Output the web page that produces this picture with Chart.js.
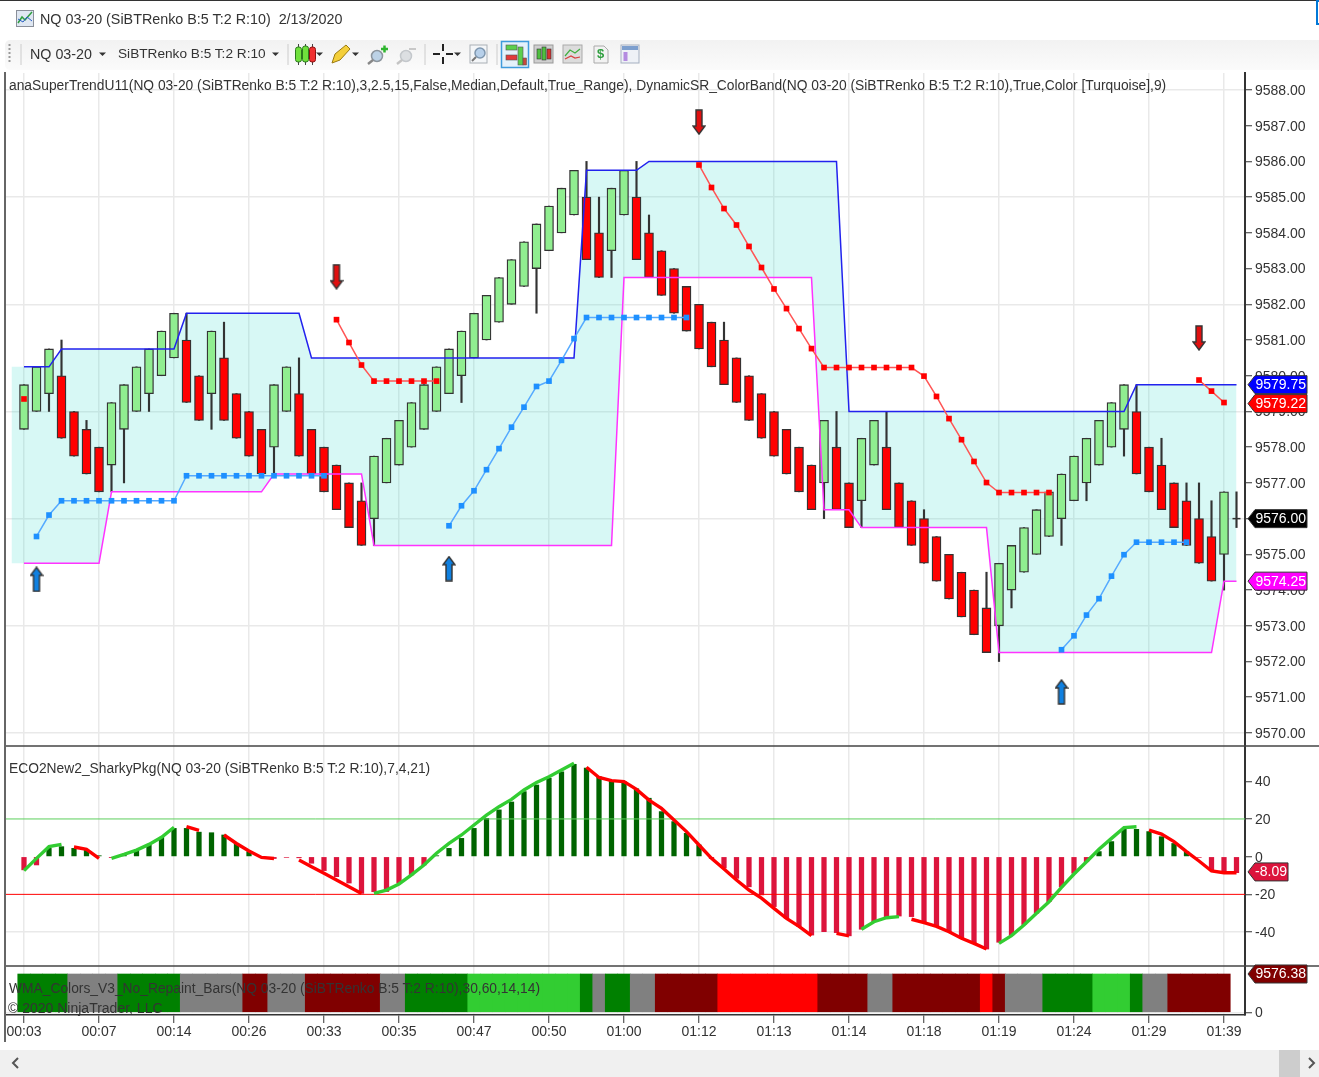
<!DOCTYPE html>
<html>
<head>
<meta charset="utf-8">
<title>NQ 03-20 (SiBTRenko B:5 T:2 R:10)</title>
<script src="https://cdn.jsdelivr.net/npm/chart.js@4"></script>
<style>
  html, body { margin: 0; padding: 0; background: #fff; overflow: hidden; }
  body { width: 1319px; height: 1077px; position: relative; font-family: "Liberation Sans", Arial, sans-serif; color: #333; }
  canvas { position: absolute; left: 0; top: 0; }
  .txt { position: absolute; white-space: nowrap; line-height: 16px; }
  .lbl { font-size: 13.82px; }
  #topline { position: absolute; left: 0; top: 0; width: 1319px; height: 1px; background: #333; }
  #leftline { position: absolute; left: 4px; top: 72px; width: 1.5px; height: 970px; background: #666; }
  #toolbar { position: absolute; left: 5px; top: 40px; width: 1314px; height: 30px; background: linear-gradient(#f2f2f2, #fbfbfb); border-radius: 5px 0 0 5px; }
  #scrollbar { position: absolute; left: 0; top: 1050px; width: 1319px; height: 27px; background: #f0f0f0; }
  #thumb { position: absolute; left: 1279px; top: 1050px; width: 21px; height: 27px; background: #cdcdcd; }
  #winbtn { position: absolute; left: 1316px; top: 0; width: 3px; height: 25px; border: 2px solid #0078d7; border-right: 0; box-sizing: border-box; }
  svg { position: absolute; overflow: visible; }
</style>
</head>
<body>
<canvas id="chart" width="1319" height="1077"></canvas>

<div id="topline"></div>
<div id="winbtn"></div>
<div id="toolbar"></div>
<div id="leftline"></div>
<div id="scrollbar"></div>
<div id="thumb"></div>

<svg style="left:0;top:0" width="1319" height="72">
  <!-- window icon -->
  <rect x="16.5" y="10.5" width="17" height="16" fill="#dfe7f2" stroke="#8a8f99"/>
  <polyline points="18,23 22,17 25,20 32,12" fill="none" stroke="#2f9e3f" stroke-width="1.5"/>
  <polyline points="18,19 23,22 27,17 32,21" fill="none" stroke="#2a5fc4" stroke-width="1"/>
  <!-- grip and separators -->
  <line x1="9.5" y1="44" x2="9.5" y2="64" stroke="#999" stroke-dasharray="2 2" stroke-width="2"/>
  <line x1="21" y1="44" x2="21" y2="65" stroke="#ccc"/>
  <line x1="288" y1="44" x2="288" y2="65" stroke="#ccc"/>
  <line x1="425" y1="44" x2="425" y2="65" stroke="#ccc"/>
  <line x1="497" y1="44" x2="497" y2="65" stroke="#ccc"/>
  <!-- dropdown arrows -->
  <polygon points="99,52.5 106,52.5 102.5,56" fill="#333"/>
  <polygon points="272,52.5 279,52.5 275.5,56" fill="#333"/>
  <polygon points="316,52.5 323,52.5 319.5,56" fill="#333"/>
  <polygon points="352,52.5 359,52.5 355.5,56" fill="#333"/>
  <polygon points="454,52.5 461,52.5 457.5,56" fill="#333"/>
  <!-- candles -->
  <path d="M298.500 44v21M305.500 44v21M312.500 44v21" stroke="#444"/>
  <rect x="295.500" y="47" width="6" height="15" rx="2.500" fill="#6fe03c" stroke="#2b7a1d"/>
  <rect x="302.500" y="46" width="6" height="16" rx="2.500" fill="#6fe03c" stroke="#2b7a1d"/>
  <rect x="309.500" y="47" width="6" height="15" rx="2.500" fill="#f03030" stroke="#8b1010"/>
  <!-- pencil -->
  <polygon points="332,63 335,54 346,45 350,49 340,60" fill="#f4cf3a" stroke="#9a7a10"/>
  <!-- zoom in / out -->
  <circle cx="377" cy="56" r="5.500" fill="#bcd2e6" stroke="#8c959d" stroke-width="1.500"/>
  <line x1="373" y1="60" x2="368" y2="64" stroke="#888" stroke-width="2.500"/>
  <path d="M381 49h7M384.500 45.500v7" stroke="#2fb52f" stroke-width="2.500"/>
  <circle cx="406" cy="56" r="5.500" fill="#dcdfe2" stroke="#c4c8cc" stroke-width="1.500"/>
  <line x1="402" y1="60" x2="397" y2="64" stroke="#c4c4c4" stroke-width="2.500"/>
  <line x1="409" y1="49" x2="416" y2="49" stroke="#c8c8c8" stroke-width="2"/>
  <!-- crosshair -->
  <path d="M433 54h7M446 54h7M443 44v7M443 57v7" stroke="#222" stroke-width="2"/>
  <!-- magnifier -->
  <rect x="470" y="45" width="17" height="18" fill="#f4f6f8" stroke="#aab0b6"/>
  <circle cx="480" cy="53" r="5" fill="#b7d0ea" stroke="#7f97af" stroke-width="1.500"/>
  <line x1="476" y1="57" x2="472" y2="61" stroke="#777" stroke-width="2"/>
  <!-- selected button -->
  <rect x="501.500" y="41.500" width="27" height="26" fill="#e4f1fa" stroke="#3f9bdc" stroke-width="1.500"/>
  <rect x="506" y="45" width="11" height="5" fill="#5ccf4c" stroke="#555" stroke-width=".6"/>
  <rect x="506" y="55" width="11" height="5" fill="#e23a3a" stroke="#555" stroke-width=".6"/>
  <rect x="518" y="47" width="5" height="18" fill="#5ccf4c" stroke="#555" stroke-width=".6"/>
  <rect x="523" y="58" width="3.500" height="7" fill="#c8483a" stroke="#555" stroke-width=".6"/>
  <!-- chart style buttons -->
  <rect x="534" y="45" width="19" height="18" fill="#cfcfcf" stroke="#999"/>
  <rect x="537" y="49" width="4" height="10" fill="#4fbf3f" stroke="#333" stroke-width=".6"/>
  <rect x="542" y="47" width="4" height="13" fill="#4fbf3f" stroke="#333" stroke-width=".6"/>
  <rect x="547" y="49" width="4" height="10" fill="#d83030" stroke="#333" stroke-width=".6"/>
  <rect x="563" y="45" width="19" height="18" fill="#dcdcdc" stroke="#aaa"/>
  <polyline points="565,56 570,50 575,53 580,49" fill="none" stroke="#3fae3f" stroke-width="1.200"/>
  <polyline points="565,59 571,56 575,58 580,57" fill="none" stroke="#d84040" stroke-width="1.200"/>
  <polygon points="594,46 604,46 608,50 608,63 594,63" fill="#f2f2f2" stroke="#aaa"/>
  <rect x="621" y="45" width="18" height="18" fill="#eef1f6" stroke="#a5afc0"/>
  <rect x="622" y="46" width="16" height="4" fill="#7d9fce"/>
  <rect x="623.500" y="52" width="4" height="9" fill="#b48be0"/>
  <!-- scrollbar arrows -->
  <polyline points="18,1058 13,1063 18,1068" fill="none" stroke="#555" stroke-width="2"/>
  <polyline points="1309,1058 1314,1063 1309,1068" fill="none" stroke="#555" stroke-width="2"/>
</svg>

<div class="txt" style="left:597px;top:46px;font-size:13px;font-weight:bold;color:#2f9e3f">$</div>
<div class="txt" style="left:40px;top:11px;font-size:14.33px">NQ 03-20 (SiBTRenko B:5 T:2 R:10)&nbsp; 2/13/2020</div>
<div class="txt" style="left:30px;top:46px;font-size:14.3px">NQ 03-20</div>
<div class="txt" style="left:118px;top:46px;font-size:13.65px">SiBTRenko B:5 T:2 R:10</div>
<div class="txt lbl" style="left:9px;top:77px">anaSuperTrendU11(NQ 03-20 (SiBTRenko B:5 T:2 R:10),3,2.5,15,False,Median,Default,True_Range), DynamicSR_ColorBand(NQ 03-20 (SiBTRenko B:5 T:2 R:10),True,Color [Turquoise],9)</div>
<div class="txt lbl" style="left:9px;top:760px">ECO2New2_SharkyPkg(NQ 03-20 (SiBTRenko B:5 T:2 R:10),7,4,21)</div>
<div class="txt lbl" style="left:9px;top:980px">WMA_Colors_V3_No_Repaint_Bars(NQ 03-20 (SiBTRenko B:5 T:2 R:10),30,60,14,14)</div>
<div class="txt" style="left:8px;top:1000px;font-size:14px">© 2020 NinjaTrader, LLC</div>

<script>
// x axis labels, one every 6 bars
const timeLabels = ["00:03", "00:07", "00:14", "00:26", "00:33", "00:35", "00:47", "00:50", "01:00", "01:12", "01:13", "01:14", "01:18", "01:19", "01:24", "01:29", "01:39"];

// renko bars
const barOpen = [9578.5, 9579, 9579.5, 9580, 9579, 9578.5, 9578, 9577.5, 9578.5, 9579, 9579.5, 9580, 9580.5, 9581, 9580, 9579.5, 9580.5, 9579.5, 9579, 9578.5,
  9578, 9579, 9579.5, 9578.5, 9578, 9577.5, 9577, 9576.5, 9576, 9577, 9577.5, 9578, 9578.5, 9579, 9579.5, 9580, 9580.5, 9581, 9581.5, 9582,
  9582.5, 9583, 9583.5, 9584, 9584.5, 9585, 9584, 9583.5, 9584.5, 9585, 9584, 9583.5, 9583, 9582.5, 9582, 9581.5, 9581, 9580.5, 9580, 9579.5,
  9579, 9578.5, 9578, 9577.5, 9577, 9578, 9577, 9576.5, 9577.5, 9578, 9577, 9576.5, 9576, 9575.5, 9575, 9574.5, 9574, 9573.5, 9573, 9574,
  9574.5, 9575, 9575.5, 9576, 9576.5, 9577, 9577.5, 9578, 9578.5, 9579, 9578, 9577.5, 9577, 9576.5, 9576, 9575.5, 9575];
const barClose = [9579.75, 9580.25, 9580.75, 9578.25, 9577.75, 9577.25, 9576.75, 9579.25, 9579.75, 9580.25, 9580.75, 9581.25, 9581.75, 9579.25, 9578.75, 9581.25, 9578.75, 9578.25, 9577.75, 9577.25,
  9579.75, 9580.25, 9577.75, 9577.25, 9576.75, 9576.25, 9575.75, 9575.25, 9577.75, 9578.25, 9578.75, 9579.25, 9579.75, 9580.25, 9580.75, 9581.25, 9581.75, 9582.25, 9582.75, 9583.25,
  9583.75, 9584.25, 9584.75, 9585.25, 9585.75, 9583.25, 9582.75, 9585.25, 9585.75, 9583.25, 9582.75, 9582.25, 9581.75, 9581.25, 9580.75, 9580.25, 9579.75, 9579.25, 9578.75, 9578.25,
  9577.75, 9577.25, 9576.75, 9576.25, 9578.75, 9576.25, 9575.75, 9578.25, 9578.75, 9576.25, 9575.75, 9575.25, 9574.75, 9574.25, 9573.75, 9573.25, 9572.75, 9572.25, 9574.75, 9575.25,
  9575.75, 9576.25, 9576.75, 9577.25, 9577.75, 9578.25, 9578.75, 9579.25, 9579.75, 9577.25, 9576.75, 9576.25, 9575.75, 9575.25, 9574.75, 9574.25, 9576.75];
const barHigh = [9579.75, 9580.25, 9580.75, 9581, 9579, 9578.75, 9578, 9579.25, 9579.75, 9580.25, 9580.75, 9581.25, 9581.75, 9581.75, 9580, 9581.25, 9581.5, 9579.5, 9579, 9578.5,
  9579.75, 9580.25, 9580.5, 9578.5, 9578, 9577.5, 9577, 9577, 9577.75, 9578.25, 9578.75, 9579.25, 9579.75, 9580.25, 9580.75, 9581.25, 9581.75, 9582.25, 9582.75, 9583.25,
  9583.75, 9584.25, 9584.75, 9585.25, 9585.75, 9586, 9585, 9585.25, 9585.75, 9586, 9584.5, 9583.5, 9583, 9582.5, 9582, 9581.5, 9581.5, 9580.5, 9580, 9579.5,
  9579, 9578.5, 9578, 9577.5, 9578.75, 9579, 9577, 9578.25, 9578.75, 9579, 9577, 9576.5, 9576.25, 9575.5, 9575, 9574.5, 9574, 9574.5, 9574.75, 9575.25,
  9575.75, 9576.25, 9576.75, 9577.25, 9577.75, 9578.25, 9578.75, 9579.25, 9579.75, 9579.75, 9578, 9578.25, 9577, 9577, 9577, 9576.5, 9576.75];
const barLow = [9578.5, 9579, 9579, 9578.25, 9577.75, 9577.25, 9576.75, 9576.75, 9577, 9579, 9579, 9580, 9580.5, 9579.25, 9578.75, 9578.5, 9578.75, 9578.25, 9577.75, 9577.25,
  9577.25, 9579, 9577.75, 9577.25, 9576.75, 9576.25, 9575.75, 9575.25, 9575.25, 9577, 9577.5, 9578, 9578.5, 9579, 9579.5, 9579.25, 9580.5, 9581, 9581.5, 9582,
  9582.5, 9581.75, 9583.5, 9584, 9584.5, 9583.25, 9582.75, 9582.75, 9584.5, 9583.25, 9582.75, 9582.25, 9581.75, 9581.25, 9580.75, 9580.25, 9579.75, 9579.25, 9578.75, 9578.25,
  9577.75, 9577.25, 9576.75, 9576.25, 9576, 9576.25, 9575.75, 9575.75, 9577.5, 9576.25, 9575.75, 9575.25, 9574.75, 9574.25, 9573.75, 9573.25, 9572.75, 9572.25, 9572, 9573.5,
  9574.5, 9575, 9575.5, 9575.25, 9576.5, 9576.5, 9577.5, 9578, 9577.75, 9577.25, 9576.75, 9576.25, 9575.75, 9575.25, 9574.75, 9574.25, 9574];

// last bar is still forming, only a doji
const lastBar = { open: 9576, high: 9576.75, low: 9575.75 };

// upper and lower band of the color band
const bandTop = [9580.25, 9580.25, 9580.25,
  9580.75, 9580.75, 9580.75, 9580.75, 9580.75, 9580.75, 9580.75, 9580.75, 9580.75, 9580.75,
  9581.75, 9581.75, 9581.75, 9581.75, 9581.75, 9581.75, 9581.75, 9581.75, 9581.75, 9581.75,
  9580.5, 9580.5, 9580.5, 9580.5, 9580.5, 9580.5, 9580.5, 9580.5, 9580.5, 9580.5, 9580.5, 9580.5, 9580.5, 9580.5, 9580.5, 9580.5, 9580.5, 9580.5, 9580.5, 9580.5, 9580.5, 9580.5,
  9585.75, 9585.75, 9585.75, 9585.75, 9585.75,
  9586, 9586, 9586, 9586, 9586, 9586, 9586, 9586, 9586, 9586, 9586, 9586, 9586, 9586, 9586, 9586,
  9579, 9579, 9579, 9579, 9579, 9579, 9579, 9579, 9579, 9579, 9579, 9579, 9579, 9579, 9579, 9579, 9579, 9579, 9579, 9579, 9579, 9579, 9579,
  9579.75, 9579.75, 9579.75, 9579.75, 9579.75, 9579.75, 9579.75, 9579.75, 9579.75];
const bandBottom = [9574.75, 9574.75, 9574.75, 9574.75, 9574.75, 9574.75, 9574.75,
  9576.75, 9576.75, 9576.75, 9576.75, 9576.75, 9576.75, 9576.75, 9576.75, 9576.75, 9576.75, 9576.75, 9576.75, 9576.75,
  9577.25, 9577.25, 9577.25, 9577.25, 9577.25, 9577.25, 9577.25, 9577.25,
  9575.25, 9575.25, 9575.25, 9575.25, 9575.25, 9575.25, 9575.25, 9575.25, 9575.25, 9575.25, 9575.25, 9575.25, 9575.25, 9575.25, 9575.25, 9575.25, 9575.25, 9575.25, 9575.25, 9575.25,
  9582.75, 9582.75, 9582.75, 9582.75, 9582.75, 9582.75, 9582.75, 9582.75, 9582.75, 9582.75, 9582.75, 9582.75, 9582.75, 9582.75, 9582.75, 9582.75,
  9576.25, 9576.25, 9576.25,
  9575.75, 9575.75, 9575.75, 9575.75, 9575.75, 9575.75, 9575.75, 9575.75, 9575.75, 9575.75, 9575.75,
  9572.25, 9572.25, 9572.25, 9572.25, 9572.25, 9572.25, 9572.25, 9572.25, 9572.25, 9572.25, 9572.25, 9572.25, 9572.25, 9572.25, 9572.25, 9572.25, 9572.25, 9572.25,
  9574.25, 9574.25];

// super trend stops, null where that side is not active
const stopUp = [null, 9575.5, 9576.1, 9576.5, 9576.5, 9576.5, 9576.5, 9576.5, 9576.5, 9576.5, 9576.5, 9576.5, 9576.5,
  9577.2, 9577.2, 9577.2, 9577.2, 9577.2, 9577.2, 9577.2, 9577.2, 9577.2, 9577.2, 9577.2, 9577.2,
  null, null, null, null, null, null, null, null, null,
  9575.8, 9576.36, 9576.78, 9577.37, 9577.96, 9578.56, 9579.12, 9579.7, 9579.85, 9580.43, 9581.04,
  9581.63, 9581.63, 9581.63, 9581.63, 9581.63, 9581.63, 9581.63, 9581.63, 9581.63,
  null, null, null, null, null, null, null, null, null, null, null, null, null, null, null, null, null, null, null, null, null, null, null, null, null, null, null, null, null,
  9572.33, 9572.72, 9573.3, 9573.76, 9574.39, 9574.99, 9575.34, 9575.34, 9575.34, 9575.34, 9575.34,
  null, null, null, null];
const stopDown = [9579.35,
  null, null, null, null, null, null, null, null, null, null, null, null, null, null, null, null, null, null, null, null, null, null, null, null,
  9581.57, 9580.93, 9580.3, 9579.85, 9579.85, 9579.85, 9579.85, 9579.85, 9579.85,
  null, null, null, null, null, null, null, null, null, null, null, null, null, null, null, null, null, null, null, null,
  9585.9, 9585.27, 9584.68, 9584.22, 9583.62, 9583.03, 9582.43, 9581.88, 9581.32, 9580.76,
  9580.23, 9580.23, 9580.23, 9580.23, 9580.23, 9580.23, 9580.23, 9580.23,
  9579.99, 9579.42, 9578.8, 9578.21, 9577.6, 9577.01,
  9576.73, 9576.73, 9576.73, 9576.73, 9576.73,
  null, null, null, null, null, null, null, null, null, null, null,
  9579.88, 9579.57, 9579.25, null];

// signal arrows: bar index and price
const arrowUpBars = [1, 34, 83];
const arrowUpPrices = [9574.3, 9574.6, 9571.15];
const arrowDownBars = [25, 54, 94];
const arrowDownPrices = [9582.77, 9587.1, 9581.06];

// ECO histogram
const ecoHist = [-7, -4.4, 4.4, 5.3, 4.4, 3.5, 0.5, -0.5, 1, 3.5, 6.2, 10.3, 15, 15, 13, 12.7, 11.5, 7, 2.6, -0.4,
  -1, -0.4, -0.6, -3.5, -7.4, -10.6, -14, -19.5, -18.6, -18.5, -14, -9.7, -4.4, 0.5, 4.4, 9.7, 15, 20.3, 24.8, 29,
  34.5, 38, 41.6, 45, 49, 47, 42.4, 40.3, 39.8, 36, 31, 23.9, 18.6, 12.4, 6.2, -1, -6, -11.5, -16, -20.3,
  -26.5, -32.7, -37, -41.6, -39.8, -40.3, -42, -38.5, -34.5, -32.4, -31.5, -31.8, -34.5, -37, -39.8, -43.3, -46, -49, -45.4, -41.6,
  -36, -30, -23.9, -16, -8.8, -2.7, 2.7, 8, 15, 14.5, 13.3, 10.6, 7, 2.7, -0.4, -7, -8, -8.5];

// ECO signal line, rising and falling pieces
const ecoRise = [-7.4, -0.9, 5.3, 6.5, null, null, null, -0.9, 1.2, 3.5, 6.5, 10.3, 15.6,
  null, null, null, null, null, null, null, null, null, null, null, null, null, null, null,
  -19.5, -17.7, -14.5, -9.7, -4.4, 1.8, 7, 11.5, 16.8, 22, 26.5, 30.4, 35.4, 39.3, 42.4, 46, 49.5,
  null, null, null, null, null, null, null, null, null, null, null, null, null, null, null, null, null, null, null, null, null, null,
  -38.5, -34.5, -32.4, -31.8,
  null, null, null, null, null, null, null,
  -46, -41.9, -36.3, -30, -23.9, -16.3, -9.2, -2.7, 3.9, 9.7, 15.4, 15.9,
  null, null, null, null, null, null, null, null];
const ecoFall = [null, null, null, null, 5.1, 3.9, -0.9, null, null, null, null, null, null,
  15.9, 14, null, 11.5, 7, 3, -0.4, -1, null, -1.8, -5.3, -8.8, -12.4, -15.9, -19.5,
  null, null, null, null, null, null, null, null, null, null, null, null, null, null, null, null, null,
  47.4, 42, 40.3, 39.8, 35.7, 30, 25.6, 19.5, 13.3, 6.2, -0.9, -6.5, -12.4, -17.7, -22, -27.4, -32.7, -37, -41.9,
  null, -40.7, -42,
  null, null, null, null,
  -33.2, -35, -37, -39.8, -43.3, -46, -49,
  null, null, null, null, null, null, null, null, null, null, null, null,
  14.1, 12, 8, 2.7, -2.3, -7.6, -8.5, -8.5];

const ecoLevelHigh = 20;
const ecoLevelLow = -20;

// WMA state per bar: 0 flat, 1 up, 2 strong up, 3 down, 4 strong down
const wmaState = [1, 1, 1, 1, 0, 0, 0, 0, 1, 1, 1, 1, 1, 0, 0, 0, 0, 0, 3, 3,
  0, 0, 0, 3, 3, 3, 3, 3, 3, 0, 0, 1, 1, 1, 1, 1, 2, 2, 2, 2,
  2, 2, 2, 2, 2, 1, 0, 1, 1, 0, 0, 3, 3, 3, 3, 3, 4, 4, 4, 4,
  4, 4, 4, 4, 3, 3, 3, 3, 0, 0, 3, 3, 3, 3, 3, 3, 3, 4, 3, 0,
  0, 0, 1, 1, 1, 1, 2, 2, 2, 1, 0, 0, 3, 3, 3, 3, 3];
const wmaLast = 9576.38;

// price tags on the right axis
const mainTags = [
  { value: 9579.75, color: "#0000ff" },
  { value: 9579.22, color: "#ff0000" },
  { value: 9576, color: "#000000" },
  { value: 9574.25, color: "#ff00ff" },
];
const ecoTag = { value: -8.09, color: "#dc143c" };
const wmaTag = { value: 9576.38, color: "#800000" };

const wmaColors = ["#808080", "#008000", "#32cd32", "#800000", "#ff0000"];
const gridColor = "#e9e9e9";
const axisColor = "#333";
const font = { family: "'Liberation Sans', Arial, sans-serif", size: 14 };

// x range comes from where the plot edges sit relative to the bars
const xMin = -1.44;
const xMax = 97.68;

function points(values) {
  return values.map((y, i) => ({ x: i, y: y }));
}

function arrowPoints(bars, prices) {
  return bars.map((x, i) => ({ x: x, y: prices[i] }));
}

// arrow marker as canvas so chart.js can use it as point style
function arrowIcon(up, fill) {
  const c = document.createElement("canvas");
  c.width = 14;
  c.height = 26;
  const g = c.getContext("2d");
  if (!up) {
    g.translate(0, 26);
    g.scale(1, -1);
  }
  g.beginPath();
  g.moveTo(7, 1);
  g.lineTo(13, 9);
  g.lineTo(10, 9);
  g.lineTo(10, 25);
  g.lineTo(4, 25);
  g.lineTo(4, 9);
  g.lineTo(1, 9);
  g.closePath();
  g.fillStyle = fill;
  g.fill();
  g.lineWidth = 1.4;
  g.strokeStyle = "#333";
  g.stroke();
  return c;
}

function drawTag(ctx, scale, tag, right) {
  const y = scale.getPixelForValue(tag.value);
  const left = 1248;
  const h = 9;
  ctx.beginPath();
  ctx.moveTo(left, y);
  ctx.lineTo(left + 7, y - h);
  ctx.lineTo(right, y - h);
  ctx.lineTo(right, y + h);
  ctx.lineTo(left + 7, y + h);
  ctx.closePath();
  ctx.fillStyle = tag.color;
  ctx.fill();
  ctx.lineWidth = 1;
  ctx.strokeStyle = "#333";
  ctx.stroke();
  ctx.fillStyle = "#fff";
  ctx.font = "14px 'Liberation Sans', Arial, sans-serif";
  ctx.textAlign = "right";
  ctx.textBaseline = "middle";
  ctx.fillText(tag.value.toFixed(2), right - 1, y + 0.5);
}

const panelPlugin = {
  id: "panels",
  afterDraw(chart) {
    const ctx = chart.ctx;
    ctx.save();
    ctx.strokeStyle = "#444";
    ctx.lineWidth = 1.5;
    [chart.scales.yMain.bottom, chart.scales.yEco.bottom].forEach((y) => {
      ctx.beginPath();
      ctx.moveTo(5, y);
      ctx.lineTo(1319, y);
      ctx.stroke();
    });
    mainTags.forEach((tag) => drawTag(ctx, chart.scales.yMain, tag, 1307));
    drawTag(ctx, chart.scales.yEco, ecoTag, 1288);
    drawTag(ctx, chart.scales.yWma, wmaTag, 1307);
    ctx.restore();
  },
};

function fixWidth(scale) {
  scale.width = 74;
}

const lineBase = { type: "line", xAxisID: "x", tension: 0, pointRadius: 0, fill: false, spanGaps: false };

new Chart(document.getElementById("chart"), {
  data: {
    datasets: [
      // band fill, starts half a bar left of the first bar
      {
        ...lineBase, yAxisID: "yMain", order: 20, borderWidth: 0, borderColor: "transparent",
        data: [{ x: -1, y: bandTop[0] }].concat(points(bandTop)),
        fill: { target: 1, above: "rgba(64,224,208,0.21)", below: "rgba(64,224,208,0.21)" },
      },
      {
        ...lineBase, yAxisID: "yMain", order: 21, borderWidth: 0, borderColor: "transparent",
        data: [{ x: -1, y: bandBottom[0] }].concat(points(bandBottom)),
      },
      // wicks then bodies
      {
        type: "bar", xAxisID: "x", yAxisID: "yMain", order: 11, grouped: false, barThickness: 1.5,
        backgroundColor: "#333",
        data: barHigh.map((h, i) => ({ x: i, y: [barLow[i], h] })).concat([{ x: barHigh.length, y: [lastBar.low, lastBar.high] }]),
      },
      {
        type: "bar", xAxisID: "x", yAxisID: "yMain", order: 10, grouped: false, barThickness: 9,
        borderWidth: 1.3, borderColor: "#333", borderSkipped: false,
        backgroundColor: barOpen.map((o, i) => (barClose[i] > o ? "#90ee90" : "#ff0000")),
        data: barOpen.map((o, i) => ({ x: i, y: [o, barClose[i]] })),
      },
      {
        ...lineBase, yAxisID: "yMain", order: 9, showLine: false, pointStyle: "line", pointRadius: 4,
        borderColor: "#333", borderWidth: 1.5, pointBorderColor: "#333",
        data: [{ x: barHigh.length, y: lastBar.open }],
      },
      // band lines
      { ...lineBase, yAxisID: "yMain", order: 5, borderColor: "#2222ee", borderWidth: 1.5, data: points(bandTop) },
      { ...lineBase, yAxisID: "yMain", order: 5, borderColor: "#ff33ff", borderWidth: 1.5, data: points(bandBottom) },
      // super trend stops
      {
        ...lineBase, yAxisID: "yMain", order: 4, borderColor: "#55aaff", borderWidth: 1.5,
        pointStyle: "rect", pointRadius: 4, pointBackgroundColor: "#1e90ff", pointBorderColor: "#1e90ff", pointBorderWidth: 0,
        data: points(stopUp),
      },
      {
        ...lineBase, yAxisID: "yMain", order: 4, borderColor: "#ff5555", borderWidth: 1.5,
        pointStyle: "rect", pointRadius: 4, pointBackgroundColor: "#ff0000", pointBorderColor: "#ff0000", pointBorderWidth: 0,
        data: points(stopDown),
      },
      // arrows
      {
        ...lineBase, yAxisID: "yMain", order: 3, showLine: false, pointRadius: 13,
        pointStyle: arrowIcon(true, "#1080e0"), data: arrowPoints(arrowUpBars, arrowUpPrices),
      },
      {
        ...lineBase, yAxisID: "yMain", order: 3, showLine: false, pointRadius: 13,
        pointStyle: arrowIcon(false, "#e01010"), data: arrowPoints(arrowDownBars, arrowDownPrices),
      },
      // ECO panel
      {
        type: "bar", xAxisID: "x", yAxisID: "yEco", order: 8, grouped: false, barThickness: 4.6,
        backgroundColor: ecoHist.map((v) => (v >= 0 ? "#006400" : "#dc143c")),
        data: points(ecoHist),
      },
      { ...lineBase, yAxisID: "yEco", order: 7, borderColor: "#5ccf5c", borderWidth: 1, data: [{ x: xMin, y: ecoLevelHigh }, { x: xMax, y: ecoLevelHigh }] },
      { ...lineBase, yAxisID: "yEco", order: 7, borderColor: "#ff0000", borderWidth: 1, data: [{ x: xMin, y: ecoLevelLow }, { x: xMax, y: ecoLevelLow }] },
      { ...lineBase, yAxisID: "yEco", order: 6, borderColor: "#32cd32", borderWidth: 3.4, data: points(ecoRise) },
      { ...lineBase, yAxisID: "yEco", order: 6, borderColor: "#ff0000", borderWidth: 3.4, data: points(ecoFall) },
      // WMA panel
      {
        type: "bar", xAxisID: "x", yAxisID: "yWma", order: 8, grouped: false, barThickness: 12.5,
        backgroundColor: wmaState.map((s) => wmaColors[s]),
        data: wmaState.map((s, i) => ({ x: i, y: wmaLast })),
      },
    ],
  },
  options: {
    responsive: false,
    animation: false,
    layout: { autoPadding: false, padding: { left: 6, top: 73, right: 0, bottom: 0 } },
    plugins: {
      legend: { display: false },
      tooltip: { enabled: false },
      filler: { propagate: false },
    },
    scales: {
      x: {
        type: "linear",
        position: "bottom",
        offset: false,
        min: xMin,
        max: xMax,
        afterFit(scale) {
          scale.height = 62;
          scale.paddingLeft = 0;
          scale.paddingRight = 0;
        },
        border: { color: axisColor, width: 1.5 },
        grid: { offset: false, color: gridColor, lineWidth: 1.5, tickColor: axisColor, tickLength: 8, tickWidth: 1 },
        ticks: {
          stepSize: 6,
          includeBounds: false,
          autoSkip: false,
          maxRotation: 0,
          padding: 1,
          color: axisColor,
          font: font,
          callback: (v) => timeLabels[v / 6],
        },
      },
      yMain: {
        position: "right",
        stack: "panels",
        stackWeight: 673,
        min: 9569.635,
        max: 9588.475,
        afterFit: fixWidth,
        border: { color: axisColor, width: 2 },
        grid: {
          color: (c) => (c.tick && Math.round(c.tick.value) % 3 === 0 ? gridColor : "transparent"),
          lineWidth: 1.5,
          tickColor: axisColor,
          tickLength: 7,
          tickWidth: 1,
        },
        ticks: {
          stepSize: 1,
          includeBounds: false,
          padding: 3,
          labelOffset: 1,
          color: axisColor,
          font: font,
          callback: (v) => v.toFixed(2),
        },
      },
      yEco: {
        position: "right",
        stack: "panels",
        stackWeight: 220,
        min: -58,
        max: 58.7,
        afterFit: fixWidth,
        border: { color: axisColor, width: 2 },
        grid: {
          color: (c) => (c.tick && c.tick.value === -40 ? gridColor : "transparent"),
          lineWidth: 1.5,
          tickColor: axisColor,
          tickLength: 7,
          tickWidth: 1,
        },
        ticks: { stepSize: 20, includeBounds: false, padding: 3, labelOffset: 1, color: axisColor, font: font },
      },
      yWma: {
        position: "right",
        stack: "panels",
        stackWeight: 49,
        min: -622,
        max: 11566,
        afterFit: fixWidth,
        afterBuildTicks(scale) {
          scale.ticks = [{ value: 0 }];
        },
        border: { color: axisColor, width: 2 },
        grid: { color: gridColor, lineWidth: 1.5, tickColor: axisColor, tickLength: 7, tickWidth: 1 },
        ticks: { padding: 3, labelOffset: 1, color: axisColor, font: font },
      },
    },
  },
  plugins: [panelPlugin],
});
</script>
</body>
</html>
